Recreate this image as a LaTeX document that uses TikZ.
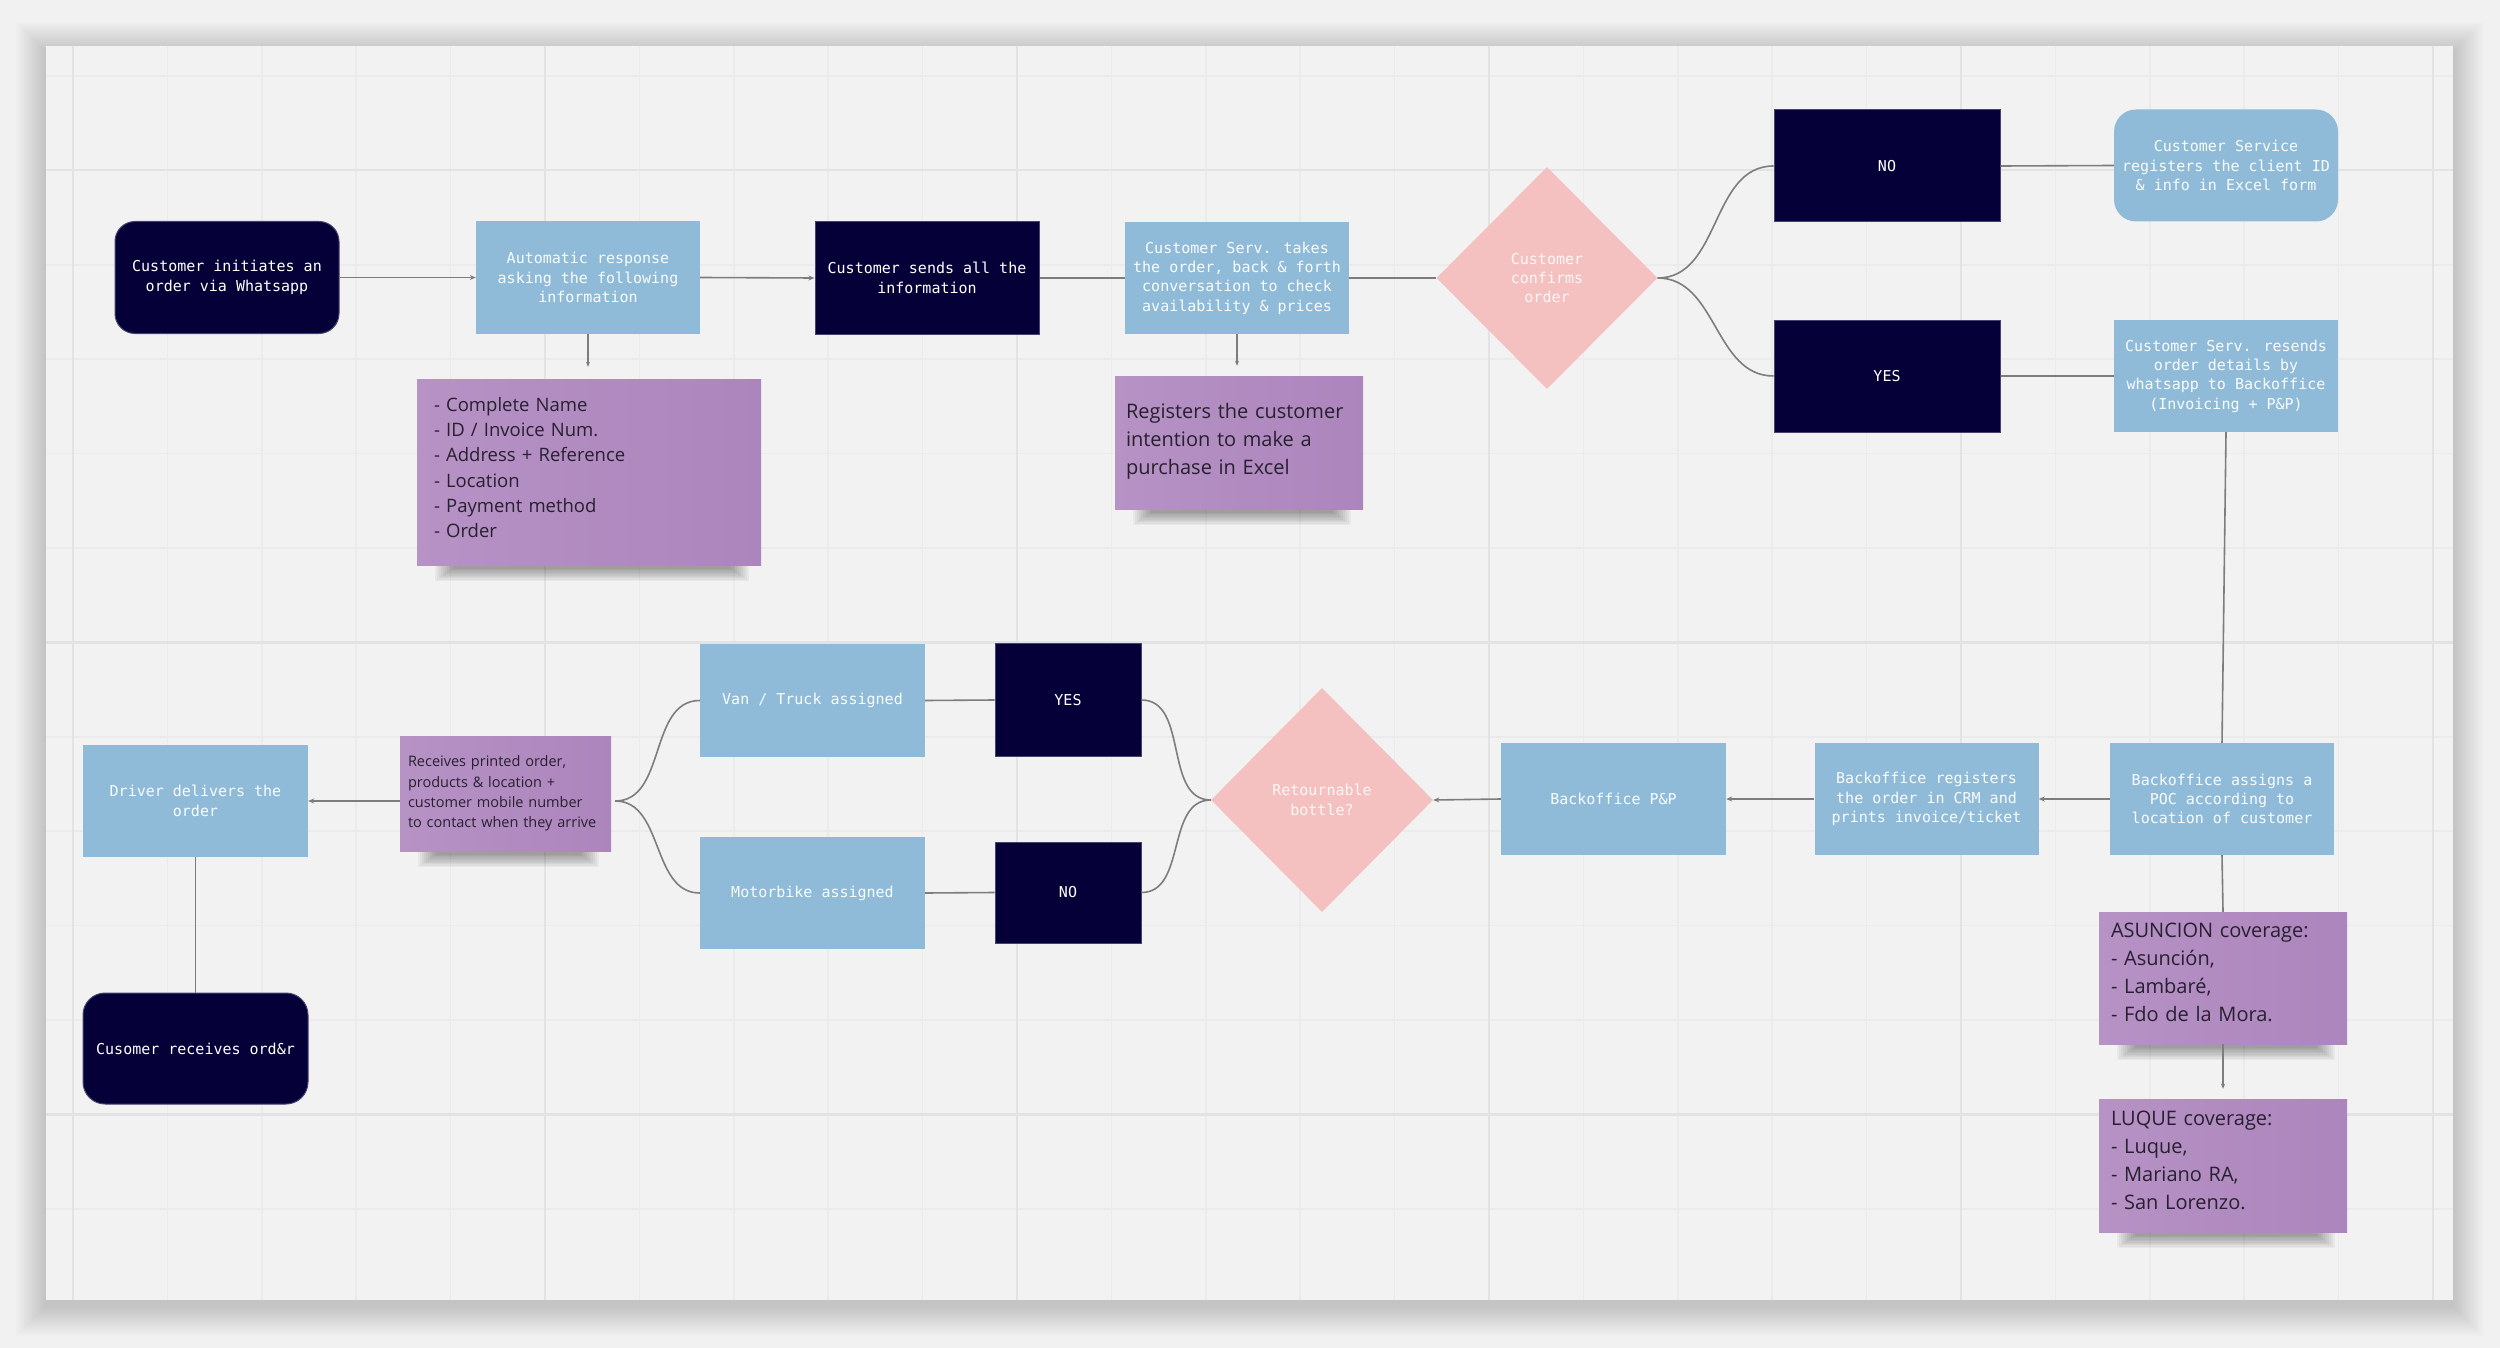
\documentclass[tikz,border=0pt]{standalone}
\usepackage{fontspec}
\usetikzlibrary{shapes.geometric,arrows.meta,calc}
\newfontfamily\boxfont{DejaVu Sans Mono}
\newfontfamily\stickfont{Open Sans}
\definecolor{navy}{RGB}{5,0,56}
\definecolor{navyedge}{RGB}{70,68,110}
\definecolor{lblue}{RGB}{143,187,217}
\definecolor{pinkd}{RGB}{245,192,192}
\definecolor{stickL}{RGB}{182,146,197}
\definecolor{stickR}{RGB}{172,133,188}
\definecolor{connc}{RGB}{125,125,125}
\definecolor{outerbg}{RGB}{241,241,241}
\definecolor{panelbg}{RGB}{242,242,242}
\definecolor{gridminor}{RGB}{235,235,235}
\definecolor{gridmajor}{RGB}{227,227,227}
\definecolor{sticktext}{RGB}{40,32,48}
\pgfdeclarelayer{back}
\pgfdeclarelayer{shadowlayer}
\pgfsetlayers{back,shadowlayer,main}
\newcommand\stickshadow[1]{%
  \foreach \i in {0,...,9}{%
    \fill[black, opacity=0.04] ($(#1.south west)+(18+2*\i,-6)$) rectangle ($(#1.south east)+(-12-2*\i,16-1.4*\i)$);
  }}
\tikzset{
  box/.style={rectangle, minimum width=224pt, minimum height=112pt, inner sep=0pt, align=center,
    font=\boxfont\fontsize{15}{19.3}\selectfont},
  darkbox/.style={box, fill=navy, draw=navyedge, line width=1pt, text=white},
  lightbox/.style={box, fill=lblue, text=white!95!lblue},
  decision/.style={diamond, aspect=1, fill=pinkd, inner sep=0pt, minimum width=221pt, minimum height=222pt,
    align=center, text=white!88!pinkd, font=\boxfont\fontsize{15}{19.3}\selectfont},
  sticky/.style={rectangle, left color=stickL, right color=stickR, text=sticktext, align=left, inner ysep=0pt},
  conn/.style={draw=connc, line width=1.6pt},
  arr/.style={conn, -{Stealth[length=6pt,width=5pt]}},
  tipend/.style={conn, -{Stealth[length=5pt,width=4pt]}},
}
\begin{document}
\begin{tikzpicture}[x=1pt,y=-1pt]
\useasboundingbox (0,0) rectangle (2500,1348);
\begin{pgfonlayer}{back}
\fill[outerbg] (0,0) rectangle (2500,1348);
\foreach \i in {1,...,15}{
  \fill[black, opacity=0.011] (46-2*\i,46-2*\i+6) rectangle (2453+2*\i,1300+2*\i+6);
}
\fill[panelbg] (46,46) rectangle (2453,1300);
\foreach \k [evaluate=\k as \xx using 73+94.4*\k] in {0,...,25}{
  \draw[gridminor, line width=1.5pt] (\xx,46) -- (\xx,1300);
}
\foreach \k [evaluate=\k as \yy using 76+94.4*\k] in {0,...,12}{
  \draw[gridminor, line width=1.5pt] (46,\yy) -- (2453,\yy);
}
\foreach \k [evaluate=\k as \xx using 73+94.4*\k] in {0,5,...,25}{
  \draw[gridmajor, line width=2.2pt] (\xx,46) -- (\xx,1300);
}
\foreach \k [evaluate=\k as \yy using 76+94.4*\k] in {1,6,11}{
  \draw[gridmajor, line width=2.2pt] (46,\yy) -- (2453,\yy);
}
\end{pgfonlayer}

% top row
\node[darkbox, rounded corners=20pt] (N1) at (227,277.5) {Customer initiates an\\order via Whatsapp};
\node[lightbox] (N2) at (588,277.5) {Automatic response\\asking the following\\information};
\node[darkbox] (N3) at (927,278) {Customer sends all the\\information};
\node[lightbox] (N4) at (1237,278) {Customer Serv. takes\\the order, back \& forth\\conversation to check\\availability \& prices};
\node[decision] (D1) at (1547,278) {Customer\\confirms\\order};
\node[darkbox, minimum width=226pt] (NO1) at (1887,166) {NO};
\node[darkbox, minimum width=226pt] (YES1) at (1887,376) {YES};
\node[lightbox, rounded corners=22pt] (CS1) at (2226,165.5) {Customer Service\\registers the client ID\\\& info in Excel form};
\node[lightbox] (CS2) at (2226,376) {Customer Serv. resends\\order details by\\whatsapp to Backoffice\\(Invoicing + P\&P)};

% stickies top
\node[sticky, minimum width=344pt, minimum height=186pt, text width=310pt,
  font=\stickfont\fontsize{18.5}{25.3}\selectfont] (S1) at (589,472)
  {- Complete Name\\- ID / Invoice Num.\\- Address + Reference\\- Location\\- Payment method\\- Order\par\vspace*{9pt}};
\node[sticky, minimum width=248pt, minimum height=133pt, text width=226pt,
  font=\stickfont\fontsize{20}{28}\selectfont] (S2) at (1239,442.5)
  {Registers the customer\\intention to make a\\purchase in Excel\par\vspace*{3pt}};

% bottom row
\node[lightbox] (BO3) at (2222,799) {Backoffice assigns a\\POC according to\\location of customer};
\node[lightbox] (BO2) at (1926.5,799) {Backoffice registers\\the order in CRM and\\prints invoice/ticket};
\node[lightbox, minimum width=225pt] (BO1) at (1613.5,799) {Backoffice P\&P};
\node[decision, minimum height=224pt, minimum width=222pt] (D2) at (1322,800) {Retournable\\bottle?};
\node[darkbox, minimum width=146pt, minimum height=113pt] (YES2) at (1068,700) {YES};
\node[darkbox, minimum width=146pt, minimum height=101pt] (NO2) at (1068,892.5) {NO};
\node[lightbox, minimum width=225pt, minimum height=113pt] (VAN) at (812.5,700.5) {Van / Truck assigned};
\node[lightbox, minimum width=225pt] (MOTO) at (812.5,893) {Motorbike assigned};
\node[sticky, minimum width=211pt, minimum height=115pt, text width=195pt,
  font=\stickfont\fontsize{14.5}{20.3}\selectfont] (S3) at (505.5,793.5)
  {Receives printed order,\\products \& location +\\customer mobile number\\to contact when they arrive};
\node[lightbox, minimum width=225pt] (DRV) at (195.5,801) {Driver delivers the\\order};
\node[darkbox, rounded corners=22pt, minimum width=225pt, minimum height=111pt] (CUS) at (195.5,1048.5) {Cusomer receives ord\&r};
\node[sticky, minimum width=248pt, minimum height=132pt, text width=224pt,
  font=\stickfont\fontsize{20}{28}\selectfont] (S4) at (2223,978)
  {ASUNCION coverage:\\- Asunción,\\- Lambaré,\\- Fdo de la Mora.\par\vspace*{12pt}};
\node[sticky, minimum width=248pt, minimum height=133pt, text width=224pt,
  font=\stickfont\fontsize{20}{28}\selectfont] (S5) at (2223,1165.5)
  {LUQUE coverage:\\- Luque,\\- Mariano RA,\\- San Lorenzo.\par\vspace*{10pt}};

\begin{pgfonlayer}{shadowlayer}
\stickshadow{S1}
\stickshadow{S2}
\stickshadow{S3}
\stickshadow{S4}
\stickshadow{S5}
\end{pgfonlayer}

% connectors top
\draw[arr] (N1.east) -- (N2.west);
\draw[arr] (N2.east) -- (N3.west);
\draw[conn] (N3.east) -- (N4.west);
\draw[conn] (N4.east) -- (D1.west);
\coordinate (c1) at ($(N2.south |- S1.north)+(0,-12)$);
\draw[tipend] (N2.south) -- (c1);
\coordinate (c2) at ($(N4.south |- S2.north)+(0,-10)$);
\draw[tipend] (N4.south) -- (c2);
\draw[conn] (D1.east) to[out=0,in=180] (NO1.west);
\draw[conn] (D1.east) to[out=0,in=180] (YES1.west);
\draw[conn] (NO1.east) -- (CS1.west);
\draw[conn] (YES1.east) -- (CS2.west);
\draw[conn] (CS2.south) -- (BO3.north);

% connectors bottom
\draw[arr] (BO3.west) -- (BO2.east);
\draw[arr] (BO2.west) -- (BO1.east);
\draw[arr] (BO1.west) -- (D2.east);
\draw[conn] (D2.west) to[out=180,in=0] (YES2.east);
\draw[conn] (D2.west) to[out=180,in=0] (NO2.east);
\draw[conn] (YES2.west) -- (VAN.east);
\draw[conn] (NO2.west) -- (MOTO.east);
\coordinate (s3r) at ($(S3.east |- DRV.east)+(4,0)$);
\draw[conn] (VAN.west) to[out=180,in=0] (s3r);
\draw[conn] (MOTO.west) to[out=180,in=0] (s3r);
\draw[arr] (S3.west |- DRV.east) -- (DRV.east);
\draw[conn] (DRV.south) -- (CUS.north);
\draw[conn] (BO3.south) -- (S4.north);
\coordinate (c3) at ($(S4.south |- S5.north)+(0,-10)$);
\draw[tipend] (S4.south) -- (c3);
\end{tikzpicture}
\end{document}
